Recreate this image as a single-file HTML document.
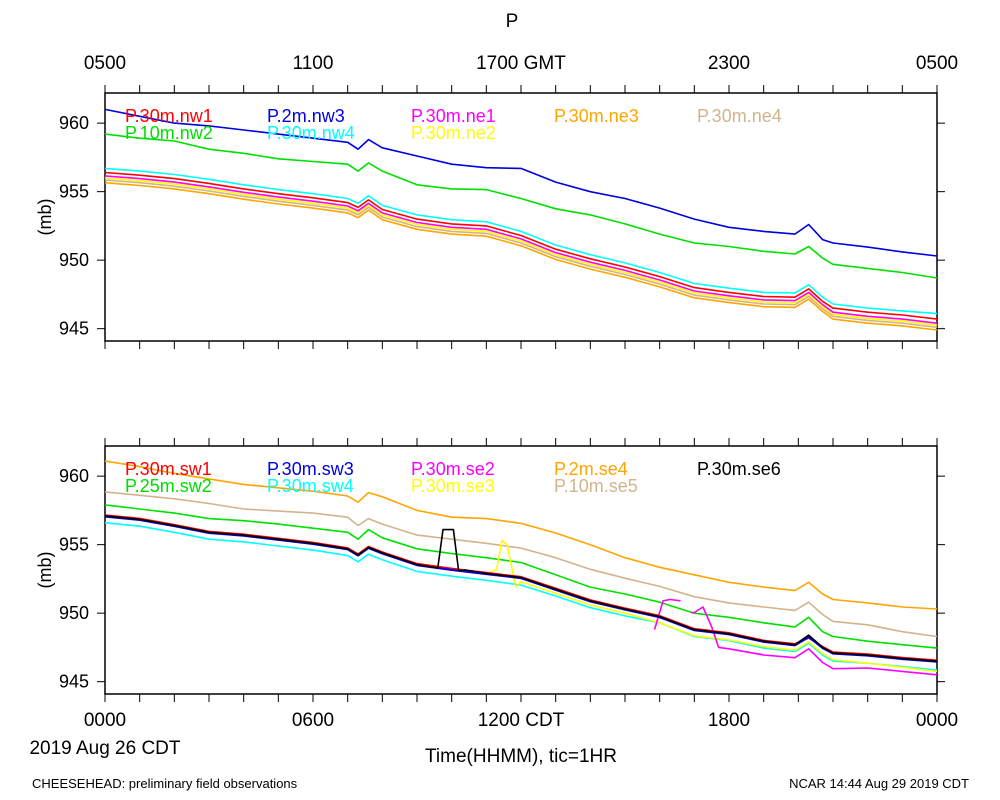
<!DOCTYPE html>
<html><head><meta charset="utf-8"><style>
body{margin:0;background:#fff;}
svg{display:block;font-family:"Liberation Sans",sans-serif;}
</style></head><body>
<svg id="chart" width="1000" height="800" viewBox="0 0 1000 800"></svg>
<script>
const T=[0,1,2,3,4,5,6,7,7.3,7.6,8,9,10,11,12,13,14,15,16,17,18,19,19.9,20.3,20.7,21,22,23,24];
// top panel
const nw1=[956.4,956.2,955.95,955.6,955.2,954.85,954.55,954.2,953.85,954.4,953.7,953.0,952.65,952.5,951.8,950.8,950.1,949.5,948.8,948.0,947.65,947.35,947.3,947.9,947.0,946.5,946.2,946.0,945.7];
const nw3=[961.0,960.5,960.0,959.8,959.5,959.2,958.9,958.6,958.1,958.8,958.2,957.6,957.0,956.75,956.7,955.7,955.0,954.5,953.8,953.0,952.4,952.1,951.9,952.6,951.5,951.25,950.95,950.6,950.3];
const nw2=[959.2,958.9,958.7,958.1,957.8,957.4,957.2,957.0,956.5,957.1,956.5,955.5,955.2,955.15,954.5,953.75,953.3,952.65,951.9,951.25,951.0,950.65,950.45,951.0,950.15,949.7,949.4,949.1,948.7];
const nw4=[956.7,956.5,956.25,955.9,955.5,955.15,954.85,954.5,954.15,954.7,954.0,953.3,952.95,952.8,952.1,951.1,950.4,949.8,949.1,948.3,947.95,947.65,947.6,948.2,947.3,946.8,946.5,946.3,946.1];
const ne1=[956.15,955.95,955.7,955.35,954.95,954.6,954.3,953.95,953.6,954.15,953.45,952.75,952.4,952.25,951.55,950.55,949.85,949.25,948.55,947.75,947.4,947.1,947.05,947.65,946.75,946.2,945.9,945.7,945.4];
const ne2=[956.0,955.8,955.55,955.2,954.8,954.45,954.15,953.8,953.45,954.0,953.3,952.6,952.25,952.1,951.4,950.4,949.7,949.1,948.4,947.6,947.25,946.95,946.9,947.5,946.6,946.05,945.75,945.55,945.25];
const ne4=[955.85,955.65,955.4,955.05,954.65,954.3,954.0,953.65,953.3,953.85,953.15,952.45,952.1,951.95,951.25,950.25,949.55,948.95,948.25,947.45,947.1,946.8,946.75,947.35,946.45,945.9,945.6,945.4,945.1];
const ne3=[955.65,955.45,955.2,954.85,954.45,954.1,953.8,953.45,953.1,953.65,952.95,952.25,951.9,951.75,951.05,950.05,949.35,948.75,948.05,947.25,946.9,946.6,946.55,947.15,946.25,945.7,945.4,945.2,944.9];
// bottom panel
const sw1=[957.15,956.9,956.45,955.95,955.75,955.45,955.15,954.75,954.3,954.85,954.45,953.6,953.25,952.95,952.65,951.8,950.95,950.35,949.8,948.85,948.55,948.0,947.75,948.2,947.55,947.15,947.0,946.75,946.55];
const sw3=[957.05,956.8,956.35,955.85,955.65,955.35,955.05,954.65,954.2,954.75,954.35,953.5,953.15,952.85,952.55,951.7,950.85,950.25,949.7,948.75,948.45,947.9,947.65,948.25,947.45,947.05,946.9,946.65,946.45];
const sw2=[957.9,957.6,957.3,956.9,956.75,956.5,956.2,955.9,955.4,956.1,955.5,954.7,954.35,954.05,953.7,952.8,951.9,951.4,950.8,950.0,949.7,949.3,949.0,949.7,948.65,948.3,947.95,947.7,947.45];
const se5=[958.85,958.6,958.35,958.0,957.6,957.45,957.3,957.0,956.4,956.9,956.5,955.7,955.4,955.1,954.75,954.05,953.2,952.55,951.95,951.2,950.75,950.45,950.2,950.8,949.9,949.4,949.15,948.65,948.3];
const se4=[961.1,960.7,960.2,959.8,959.4,959.15,958.9,958.55,958.1,958.8,958.5,957.5,957.0,956.9,956.55,955.85,955.0,954.05,953.35,952.8,952.25,951.9,951.65,952.25,951.4,951.0,950.75,950.45,950.3];
const sw4=[956.6,956.35,955.9,955.4,955.2,954.9,954.6,954.2,953.75,954.3,953.9,953.05,952.7,952.4,952.05,951.25,950.4,949.8,949.3,948.3,948.0,947.45,947.2,947.8,946.95,946.5,946.35,946.1,945.85];
const TB=[0,1,2,3,4,5,6,7,7.3,7.6,8,9,9.6,9.75,10.05,10.2,10.4,11,12,13,14,15,16,17,18,19,19.9,20.3,20.7,21,22,23,24];
const se6=[957.1,956.85,956.4,955.9,955.7,955.4,955.1,954.7,954.25,954.8,954.4,953.55,953.3,956.1,956.1,953.1,953.15,952.9,952.6,951.75,950.9,950.3,949.75,948.8,948.5,947.95,947.7,948.4,947.5,947.1,946.95,946.7,946.5];
const TY=[0,1,2,3,4,5,6,7,7.3,7.6,8,9,10,11,11.3,11.45,11.6,11.85,12,13,14,15,16,17,18,19,19.9,20.3,20.7,21,22,23,24];
const se3=[957.05,956.8,956.35,955.85,955.65,955.35,955.05,954.65,954.2,954.75,954.35,953.5,953.15,952.85,953.2,955.3,955.0,951.9,952.3,951.45,950.6,950.0,949.3,948.35,948.05,947.55,947.3,947.9,947.05,946.6,946.35,946.05,945.75];
const TM1=[15.85,16.1,16.3,16.6];
const se2a=[948.8,950.9,951.0,950.9];
const TM2=[16.9,17.0,17.25,17.5,17.7,18,19,19.9,20.3,20.7,21,22,23,24];
const se2b=[950.05,950.05,950.45,949.0,947.5,947.4,946.95,946.75,947.4,946.4,945.95,946.0,945.75,945.5];
const yTicks=[945,950,955,960];
const topLabels=["0500","1100","1700 GMT","2300","0500"];
const botLabels=["0000","0600","1200 CDT","1800","0000"];

const svg=document.getElementById('chart');
const NS='http://www.w3.org/2000/svg';
const X0=105,X1=937,YMIN=944.1,YMAX=962.2;
function xs(h){return X0+(X1-X0)*h/24;}
function mk(tag,attrs,parent){const e=document.createElementNS(NS,tag);for(const k in attrs)e.setAttribute(k,attrs[k]);(parent||svg).appendChild(e);return e;}
function txt(s,x,y,size,anchor,color,parent){const e=mk('text',{x:x,y:y,'font-size':size,'text-anchor':anchor||'start',fill:color||'#000'},parent);e.textContent=s;return e;}

function panel(top,bot,name,series,legend){
  const g=mk('g',{});
  
  
  const ys=v=>bot-(bot-top)*(v-YMIN)/(YMAX-YMIN);
  const fr=mk('rect',{x:X0,y:top,width:X1-X0,height:bot-top,fill:'none',stroke:'#000','stroke-width':1.5},g);
  
  
  for(let h=0;h<=24;h++){
    const x=xs(h);
    const t1=mk('line',{x1:x,x2:x,y1:top-8,y2:top,stroke:'#000','stroke-width':1},g);
    
    
    const t2=mk('line',{x1:x,x2:x,y1:bot,y2:bot+8,stroke:'#000','stroke-width':1},g);
    
    
  }
  yTicks.forEach(v=>{
    const y=ys(v);
    const a=mk('line',{x1:X0-8,x2:X0,y1:y,y2:y,stroke:'#000'},g);
    
    
    const b=mk('line',{x1:X1,x2:X1+8,y1:y,y2:y,stroke:'#000'},g);
    
    
    const l=txt(String(v),89,y+6,18,'end','#000',g);
    
    
  });
  const yl=txt('(mb)',0,0,18,'middle','#000',g);
  yl.setAttribute('transform','translate(51,'+((top+bot)/2)+') rotate(-90)');
  
  
  series.forEach(s=>{
    const d=s.t.map((h,i)=>(i?'L':'M')+xs(h).toFixed(1)+' '+ys(s.v[i]).toFixed(1)).join(' ');
    const p=mk('path',{d:d,fill:'none',stroke:s.c,'stroke-width':s.w||1.6,'stroke-linejoin':'round'},g);
    
    
  });
  legend.forEach(l=>{
    const e=txt(l.s,l.x,top+l.row*17+29,18,'start',l.c,g);
    
    
  });
}
panel(93,341,'top-panel',[
 {t:T,v:nw3,c:'#0000e0',n:'nw3'},{t:T,v:nw2,c:'#00e000',n:'nw2'},
 {t:T,v:ne3,c:'#ffa500',n:'ne3'},{t:T,v:ne4,c:'#d2b48c',n:'ne4'},
 {t:T,v:ne2,c:'#ffff00',n:'ne2'},{t:T,v:ne1,c:'#ff00ff',n:'ne1'},
 {t:T,v:nw1,c:'#ff0000',n:'nw1'},{t:T,v:nw4,c:'#00ffff',n:'nw4'}
],[
 {s:'P.30m.nw1',x:125,row:0,c:'#ff0000'},{s:'P.10m.nw2',x:125,row:1,c:'#00e000'},
 {s:'P.2m.nw3',x:267,row:0,c:'#0000e0'},{s:'P.30m.nw4',x:267,row:1,c:'#00ffff'},
 {s:'P.30m.ne1',x:411,row:0,c:'#ff00ff'},{s:'P.30m.ne2',x:411,row:1,c:'#ffff00'},
 {s:'P.30m.ne3',x:554,row:0,c:'#ffa500'},{s:'P.30m.ne4',x:697,row:0,c:'#d2b48c'}
]);
panel(446,694,'bottom-panel',[
 {t:T,v:se4,c:'#ffa500',n:'se4'},{t:T,v:se5,c:'#d2b48c',n:'se5'},
 {t:T,v:sw2,c:'#00e000',n:'sw2'},{t:T,v:sw4,c:'#00ffff',n:'sw4'},
 {t:TY,v:se3,c:'#ffff00',n:'se3'},{t:TM1,v:se2a,c:'#ff00ff',n:'se2a'},{t:TM2,v:se2b,c:'#ff00ff',n:'se2b'},
 {t:T,v:sw1,c:'#ff0000',n:'sw1',w:2},{t:T,v:sw3,c:'#0000e0',n:'sw3',w:2},{t:TB,v:se6,c:'#000000',n:'se6',w:1.6}
],[
 {s:'P.30m.sw1',x:125,row:0,c:'#ff0000'},{s:'P.25m.sw2',x:125,row:1,c:'#00e000'},
 {s:'P.30m.sw3',x:267,row:0,c:'#0000e0'},{s:'P.30m.sw4',x:267,row:1,c:'#00ffff'},
 {s:'P.30m.se2',x:411,row:0,c:'#ff00ff'},{s:'P.30m.se3',x:411,row:1,c:'#ffff00'},
 {s:'P.2m.se4',x:554,row:0,c:'#ffa500'},{s:'P.10m.se5',x:554,row:1,c:'#d2b48c'},
 {s:'P.30m.se6',x:697,row:0,c:'#000000'}
]);
topLabels.forEach((s,i)=>{
  const e=txt(s,xs(i*6),69,19,'middle');
  
  
});
botLabels.forEach((s,i)=>{
  const e=txt(s,xs(i*6),726,19,'middle');
  
  
});
let e;
e=txt('P',512,27,19,'middle');


e=txt('2019 Aug 26 CDT',105,754,19,'middle');


e=txt('Time(HHMM), tic=1HR',521,762,19,'middle');


e=txt('CHEESEHEAD: preliminary field observations',32,788,13,'start');


e=txt('NCAR 14:44 Aug 29 2019 CDT',969,788,13,'end');


</script>
</body></html>
